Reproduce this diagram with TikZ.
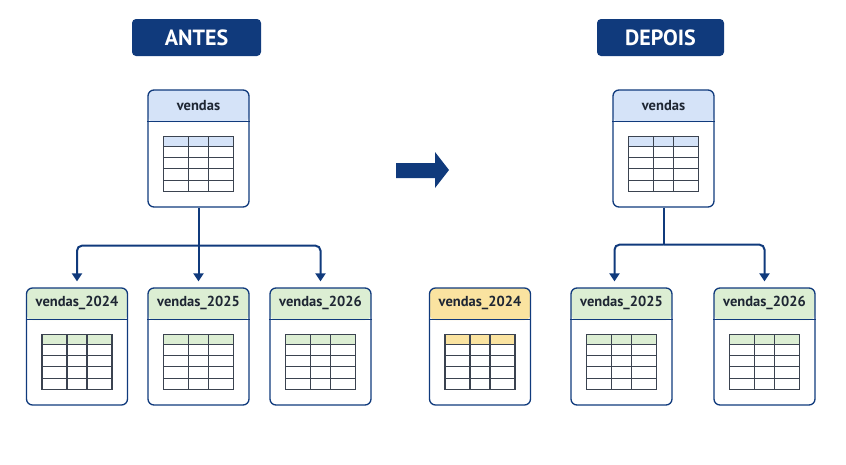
\documentclass[tikz,border=0pt]{standalone}
\usepackage{fontspec}
\setmainfont{PT Sans}
\usetikzlibrary{arrows.meta}

\definecolor{azul}{HTML}{103A7C}
\definecolor{texto}{HTML}{1E2633}
\definecolor{cinza}{HTML}{3B4350}
\definecolor{cabazul}{HTML}{D5E3F8}
\definecolor{cabverde}{HTML}{DCEED3}
\definecolor{cabamarelo}{HTML}{FAE3A0}

\tikzset{
  caixa/.style={draw=azul, line width=1.3pt, rounded corners=6pt,
    minimum width=101pt, minimum height=117pt, inner sep=0pt},
  rotulo/.style={font=\bfseries\fontsize{14.5}{17}\selectfont, text=texto},
  titulo/.style={fill=azul, rounded corners=4pt, text=white, inner sep=0pt,
    minimum height=37pt, font=\bfseries\fontsize{22}{26}\selectfont},
  ligacao/.style={draw=azul, line width=2pt, rounded corners=5pt,
    -{Triangle[width=10pt,length=8pt]}, shorten >=6pt},
  tronco/.style={draw=azul, line width=2pt},
  grade/.style={draw=cinza, line width=1.1pt}
}

% tabela: nome, x, y, rotulo, cor do cabecalho
\newcommand{\tabela}[5]{%
  \node[caixa, path picture={\fill[#5] (path picture bounding box.north west)
      rectangle ([yshift=-32pt]path picture bounding box.north east);}] (#1) at (#2,#3) {};
  \draw[azul, line width=1.3pt] ([yshift=-32pt]#1.north west) -- ([yshift=-32pt]#1.north east);
  \node[rotulo] (#1-rot) at ([yshift=-16pt]#1.north) {#4};
  \coordinate (#1-t) at ([yshift=-47pt]#1.north);
  \fill[#5] ([xshift=-35pt]#1-t) rectangle ([xshift=35pt,yshift=-10pt]#1-t);
  \foreach \k in {0,...,3}
    \draw[grade] ([xshift=-35pt,yshift={-10pt-\k*11.25pt}]#1-t) -- ++(70,0);
  \foreach \c in {-10,10}
    \draw[grade] ([xshift=\c pt]#1-t) -- ++(0,55);
  \draw[grade] ([xshift=-35pt]#1-t) rectangle ([xshift=35pt,yshift=-55pt]#1-t);
}

\begin{document}
\begin{tikzpicture}[x=1pt, y=-1pt]
  \useasboundingbox (0,0) rectangle (846,464);

  %–– Titulos ––
  \node[titulo, minimum width=129pt] (antes) at (196.5,37.5) {ANTES};
  \node[titulo, minimum width=127pt] (depois) at (660.5,37.5) {DEPOIS};

  %–– Antes ––
  \tabela{vA}{198.5}{148.5}{vendas}{cabazul}
  \tabela{vA24}{77}{346.5}{vendas\_2024}{cabverde}
  \tabela{vA25}{198.5}{346.5}{vendas\_2025}{cabverde}
  \tabela{vA26}{320.5}{346.5}{vendas\_2026}{cabverde}

  \coordinate (ramoA) at ([yshift=-38pt]vA.south);
  \draw[ligacao] (vA.south) -- (vA25.north);
  \draw[ligacao] (ramoA) -| (vA24.north);
  \draw[ligacao] (ramoA) -| (vA26.north);

  %–– Seta ––
  \fill[azul] (396,163) -- (435,163) -- (435,152) -- (449,170)
    -- (435,188) -- (435,178) -- (396,178) -- cycle;

  %–– Depois ––
  \tabela{vD}{663.5}{148.5}{vendas}{cabazul}
  \tabela{vD24}{480}{346.5}{vendas\_2024}{cabamarelo}
  \tabela{vD25}{621.5}{346.5}{vendas\_2025}{cabverde}
  \tabela{vD26}{764.5}{346.5}{vendas\_2026}{cabverde}

  \coordinate (ramoD) at ([yshift=-37pt]vD.south);
  \draw[tronco] (vD.south) -- (ramoD);
  \draw[ligacao] (ramoD) -| ([xshift=-7pt]vD25.north);
  \draw[ligacao] (ramoD) -| (vD26.north);
\end{tikzpicture}
\end{document}
